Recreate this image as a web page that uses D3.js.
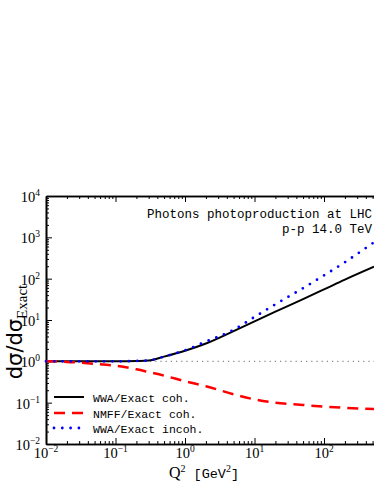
<!DOCTYPE html>
<html>
<head>
<meta charset="utf-8">
<script src="https://cdn.jsdelivr.net/npm/d3@7"></script>
<style>
  body { margin: 0; background: #fff; }
  svg { display: block; }
</style>
</head>
<body>
<div id="chart"></div>
<script>
// Q^2 values (GeV^2) and the three ratio curves
var q2 = [0.01, 0.02, 0.05, 0.1, 0.2, 0.3, 0.5, 1, 2, 5, 10, 20, 50, 100, 200, 525];
var wwaCoh = [1, 1, 1, 1, 1.02, 1.05, 1.3, 1.8, 2.7, 5.4, 9.3, 16, 32, 55, 95, 195];
var nmffCoh = [1, 0.97, 0.87, 0.78, 0.64, 0.55, 0.45, 0.33, 0.25, 0.16, 0.12, 0.1, 0.088, 0.08, 0.075, 0.07];
var wwaIncoh = [1, 1, 1, 1, 1.02, 1.05, 1.3, 1.85, 3.0, 5.8, 11.8, 24, 59, 120, 250, 760];
var xTickExp = [-2, -1, 0, 1, 2];
var yTickExp = [-2, -1, 0, 1, 2, 3, 4];
var legendLabels = ["WWA/Exact coh.", "NMFF/Exact coh.", "WWA/Exact incoh."];

function drawChart() {
  var w = 374, h = 484;
  var mLeft = 46, mTop = 196, mBottom = 444;
  var decade = 69.5;

  var svg = d3.select("#chart").append("svg")
    .attr("width", w)
    .attr("height", h);

  var x = d3.scaleLog().domain([1e-2, 1e3]).range([mLeft, mLeft + 5 * decade]);
  var y = d3.scaleLog().domain([1e-2, 1e4]).range([mBottom, mTop]);

  var serif = "Liberation Serif, DejaVu Serif, serif";
  var mono = "Liberation Mono, DejaVu Sans Mono, monospace";

  // minor + major ticks, pointing inwards
  function isMajor(v) {
    var l = Math.log10(v);
    return Math.abs(l - Math.round(l)) < 1e-6;
  }
  var xAll = x.ticks();
  var yAll = y.ticks();

  function drawAxis(axisFn, scale, vals, transform, size) {
    var g = svg.append("g")
      .attr("transform", transform)
      .call(axisFn(scale).tickValues(vals).tickSize(size).tickSizeOuter(0).tickFormat(""));
    g.select(".domain").attr("stroke-width", 1.6);
    g.selectAll(".tick line").attr("stroke-width", 1);
    return g;
  }
  var xMaj = xAll.filter(isMajor), xMin = xAll.filter(function (v) { return !isMajor(v); });
  var yMaj = yAll.filter(isMajor), yMin = yAll.filter(function (v) { return !isMajor(v); });

  drawAxis(d3.axisBottom, x, xMaj, "translate(0," + mBottom + ")", -6);
  drawAxis(d3.axisBottom, x, xMin, "translate(0," + mBottom + ")", -3);
  drawAxis(d3.axisTop, x, xMaj, "translate(0," + mTop + ")", -6);
  drawAxis(d3.axisTop, x, xMin, "translate(0," + mTop + ")", -3);
  drawAxis(d3.axisLeft, y, yMaj, "translate(" + mLeft + ",0)", -6);
  drawAxis(d3.axisLeft, y, yMin, "translate(" + mLeft + ",0)", -3);

  // tick labels 10^n
  xTickExp.forEach(function (e) {
    var t = svg.append("text")
      .attr("x", x(Math.pow(10, e)))
      .attr("y", 458)
      .attr("text-anchor", "middle")
      .attr("font-family", serif)
      .attr("font-size", 14.5);
    t.append("tspan").text("10");
    t.append("tspan").attr("dy", -6).attr("font-size", 9.5).text(e < 0 ? "\u2212" + (-e) : e);
  });
  yTickExp.forEach(function (e) {
    var t = svg.append("text")
      .attr("x", 40)
      .attr("y", y(Math.pow(10, e)) + 6)
      .attr("text-anchor", "end")
      .attr("font-family", serif)
      .attr("font-size", 14.5);
    t.append("tspan").text("10");
    t.append("tspan").attr("dy", -6).attr("font-size", 9.5).text(e < 0 ? "\u2212" + (-e) : e);
  });

  // reference line at 1
  svg.append("line")
    .attr("x1", mLeft).attr("x2", w)
    .attr("y1", y(1)).attr("y2", y(1))
    .attr("stroke", "#888")
    .attr("stroke-width", 1.2)
    .attr("stroke-dasharray", "1.2,4");

  // curves
  var line = d3.line()
    .x(function (d) { return x(d[0]); })
    .y(function (d) { return y(d[1]); })
    .curve(d3.curveMonotoneX);

  function zip(vals) {
    return q2.map(function (q, i) { return [q, vals[i]]; });
  }

  var styles = [
    { color: "#000", width: 2, dash: null, cap: "butt" },
    { color: "#f00", width: 2.5, dash: "11,7", cap: "butt" },
    { color: "#00f", width: 2.8, dash: "0,8.3", cap: "round" }
  ];
  var series = [wwaCoh, nmffCoh, wwaIncoh];

  series.forEach(function (s, i) {
    svg.append("path")
      .datum(zip(s))
      .attr("d", line)
      .attr("fill", "none")
      .attr("stroke", styles[i].color)
      .attr("stroke-width", styles[i].width)
      .attr("stroke-linecap", styles[i].cap)
      .attr("stroke-dasharray", styles[i].dash);
  });

  // legend
  var legY = [397, 413, 428];
  legendLabels.forEach(function (lab, i) {
    svg.append("line")
      .attr("x1", 54).attr("x2", 84)
      .attr("y1", legY[i]).attr("y2", legY[i])
      .attr("stroke", styles[i].color)
      .attr("stroke-width", styles[i].width)
      .attr("stroke-linecap", styles[i].cap)
      .attr("stroke-dasharray", styles[i].dash);
    svg.append("text")
      .attr("x", 93)
      .attr("y", legY[i] + 4.5)
      .attr("font-family", mono)
      .attr("font-size", 11.5)
      .text(lab);
  });

  // title text
  svg.append("text")
    .attr("x", 372).attr("y", 218)
    .attr("text-anchor", "end")
    .attr("font-family", mono)
    .attr("font-size", 12.5)
    .text("Photons photoproduction at LHC");
  svg.append("text")
    .attr("x", 372).attr("y", 233)
    .attr("text-anchor", "end")
    .attr("font-family", mono)
    .attr("font-size", 12.5)
    .text("p-p 14.0 TeV");

  // axis titles
  var xl = svg.append("text")
    .attr("x", 204).attr("y", 478)
    .attr("text-anchor", "middle")
    .attr("font-family", serif)
    .attr("font-size", 16);
  xl.append("tspan").text("Q");
  xl.append("tspan").attr("dy", -6).attr("font-size", 10).text("2");
  xl.append("tspan").attr("dy", 6).attr("font-family", mono).attr("font-size", 13.5).text(" [GeV");
  xl.append("tspan").attr("dy", -6).attr("font-size", 10).text("2");
  xl.append("tspan").attr("dy", 6).attr("font-family", mono).attr("font-size", 13.5).text("]");

  var yl = svg.append("text")
    .attr("transform", "translate(22,332) rotate(-90)")
    .attr("text-anchor", "middle")
    .attr("font-family", "DejaVu Sans, sans-serif")
    .attr("font-size", 21);
  yl.append("tspan").text("d\u03c3/d\u03c3");
  yl.append("tspan").attr("dy", 5).attr("font-family", serif).attr("font-size", 15).text("Exact");
}
drawChart();
</script>
</body>
</html>
